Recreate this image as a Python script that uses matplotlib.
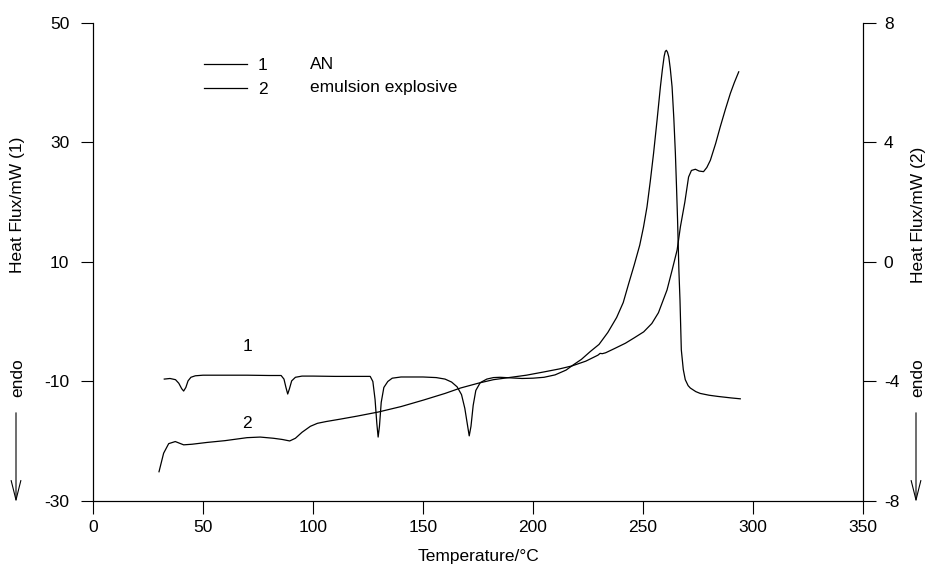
import matplotlib
matplotlib.use("Agg")
import matplotlib.pyplot as plt
from matplotlib.lines import Line2D

plt.rcParams["font.family"] = ["Liberation Sans", "DejaVu Sans"]
plt.rcParams["axes.unicode_minus"] = False

# DSC traces: temperature (deg C) vs heat flux (mW)
# curve 1 (AN) on the left axis
an_temp = [32.4, 35, 37.5, 39, 40.3, 41.2, 42.2, 43.2, 44.5, 46.5, 50, 60, 70, 80,
           85.5, 86.8, 87.7, 88.5, 89.3, 90.3, 92, 95, 100, 110, 120, 126,
           127.2, 128.2, 129.0, 129.6, 130.2, 131.0, 132.2, 134, 136, 140, 150,
           156, 160, 163, 165.5, 167.5, 169, 170.3, 171.0, 171.8, 172.8, 174,
           176, 179, 182, 185, 190, 195, 200, 205, 210, 215, 218, 222, 226, 230,
           234, 238, 241, 243.5, 246, 248.5, 250.2, 251.8, 253.3, 254.8, 256.4,
           257.9, 258.8, 259.6, 260.1, 260.6, 261.1, 261.7, 262.4, 263.2, 264.0,
           264.7, 265.2, 265.7, 266.3, 266.8, 267.4, 268.3, 269.2, 270.5,
           271.5, 274, 276, 280, 284, 290, 294.2]
an_flux = [-9.6, -9.5, -9.7, -10.3, -11.2, -11.6, -11.0, -9.9, -9.3, -9.05, -8.95,
           -8.95, -8.95, -9.0, -9.0, -9.6, -11.0, -12.1, -11.2, -9.9, -9.3, -9.1,
           -9.1, -9.15, -9.15, -9.15, -10.0, -13.0, -17.0, -19.3, -17.5, -13.5,
           -11.0, -10.0, -9.45, -9.25, -9.25, -9.35, -9.6, -10.1, -10.9, -12.2,
           -14.5, -17.5, -19.1, -17.5, -14.0, -11.5, -10.2, -9.6, -9.35, -9.3,
           -9.4, -9.5, -9.45, -9.3, -8.9, -8.1, -7.3, -6.3, -5.0, -3.8, -1.8, 0.7,
           3.2, 6.4, 9.5, 12.8, 15.8, 19.2, 23.5, 28.2, 33.8, 39.3, 42.2, 44.4,
           45.2, 45.4, 45.1, 44.3, 42.3, 39.3, 34.0, 28.2, 22.8, 17.0, 8.6, 3.6,
           -4.7, -8.0, -9.7, -10.7, -11.1, -11.7, -12.0, -12.3, -12.5, -12.75,
           -12.9]

# curve 2 (emulsion explosive) on the right axis
em_temp = [30, 32.1, 34.4, 37.4, 41.2, 45, 51.8, 60, 70, 76, 82, 86, 89.4, 92, 95,
           98.8, 102, 106, 112.4, 120, 129.8, 140, 150.3, 160, 167, 175, 182, 190,
           197, 205, 212, 217.7, 224, 229.5, 230.5, 231.5, 233, 237, 242, 246,
           250.3, 254, 257, 260.9, 263.2, 265.5, 267, 269, 270.7, 272, 273.8,
           275.5, 277.5, 279, 280.6, 283, 285.1, 287.5, 289.7, 291.5, 293.5]
em_flux = [-7.02, -6.40, -6.08, -6.01, -6.12, -6.10, -6.04, -5.98, -5.88, -5.86,
           -5.90, -5.94, -5.99, -5.90, -5.70, -5.50, -5.40, -5.34, -5.26, -5.16,
           -5.02, -4.84, -4.62, -4.40, -4.22, -4.06, -3.94, -3.86, -3.79, -3.68,
           -3.58, -3.48, -3.32, -3.12, -3.06, -3.07, -3.04, -2.90, -2.72, -2.54,
           -2.34, -2.06, -1.70, -0.94, -0.28, 0.40, 1.18, 2.00, 2.84, 3.06, 3.10,
           3.04, 3.02, 3.16, 3.40, 3.96, 4.52, 5.12, 5.64, 6.00, 6.36]

x_ticks = [0, 50, 100, 150, 200, 250, 300, 350]
left_ticks = [-30, -10, 10, 30, 50]
right_ticks = [-8, -4, 0, 4, 8]

fig = plt.figure(figsize=(9.3, 5.7), dpi=100)
ax = fig.add_axes([0.1, 0.121, 0.828, 0.839])
ax2 = ax.twinx()

lw = 0.9
ax.plot(an_temp, an_flux, color="black", lw=lw)
ax2.plot(em_temp, em_flux, color="black", lw=lw)

ax.set_xlim(0, 350)
ax.set_ylim(-30, 50)
ax2.set_ylim(-8, 8)
ax.set_xticks(x_ticks)
ax.set_yticks(left_ticks)
ax2.set_yticks(right_ticks)

for a in (ax, ax2):
    a.spines["top"].set_visible(False)
    for s in a.spines.values():
        s.set_linewidth(0.8)
    a.tick_params(direction="out", length=9, width=0.8, labelsize=12.5)
ax.tick_params(axis="y", pad=8)
ax.tick_params(axis="x", pad=5)
ax2.tick_params(axis="y", pad=6)

ax.set_xlabel("Temperature/°C", fontsize=12.5, labelpad=10)

# curve numbers next to the traces
ax.text(70, -4.1, "1", fontsize=12.5, ha="center", va="center")
ax.text(70, -17.0, "2", fontsize=12.5, ha="center", va="center")

# legend: line key + number, then the sample name further right
handles = [Line2D([], [], color="black", lw=lw), Line2D([], [], color="black", lw=lw)]
ax.legend(handles, ["1", "2"], loc="upper left", bbox_to_anchor=(0.135, 0.941),
          frameon=False, fontsize=12.5, handlelength=2.5, handletextpad=0.6,
          labelspacing=0.48, borderaxespad=0)
ax.text(0.282, 0.913, "AN", transform=ax.transAxes, fontsize=12.5, va="center")
ax.text(0.282, 0.865, "emulsion explosive", transform=ax.transAxes, fontsize=12.5,
        va="center")

# axis titles and endo arrows, placed in figure pixels
fig.text(18, 570 - 205, "Heat Flux/mW (1)", rotation=90, ha="center", va="center",
         fontsize=12.5, transform=None)
fig.text(918, 570 - 215, "Heat Flux/mW (2)", rotation=90, ha="center", va="center",
         fontsize=12.5, transform=None)
for xp in (18, 918):
    fig.text(xp, 570 - 378, "endo", rotation=90, ha="center", va="center",
             fontsize=12.5, transform=None)
    ax.annotate("", xy=(xp - 2, 570 - 505), xytext=(xp - 2, 570 - 410),
                xycoords="figure pixels", textcoords="figure pixels",
                arrowprops=dict(arrowstyle="->,head_length=1.4,head_width=0.35",
                                color="black", lw=0.8))

fig.savefig("out.png", dpi=100)
